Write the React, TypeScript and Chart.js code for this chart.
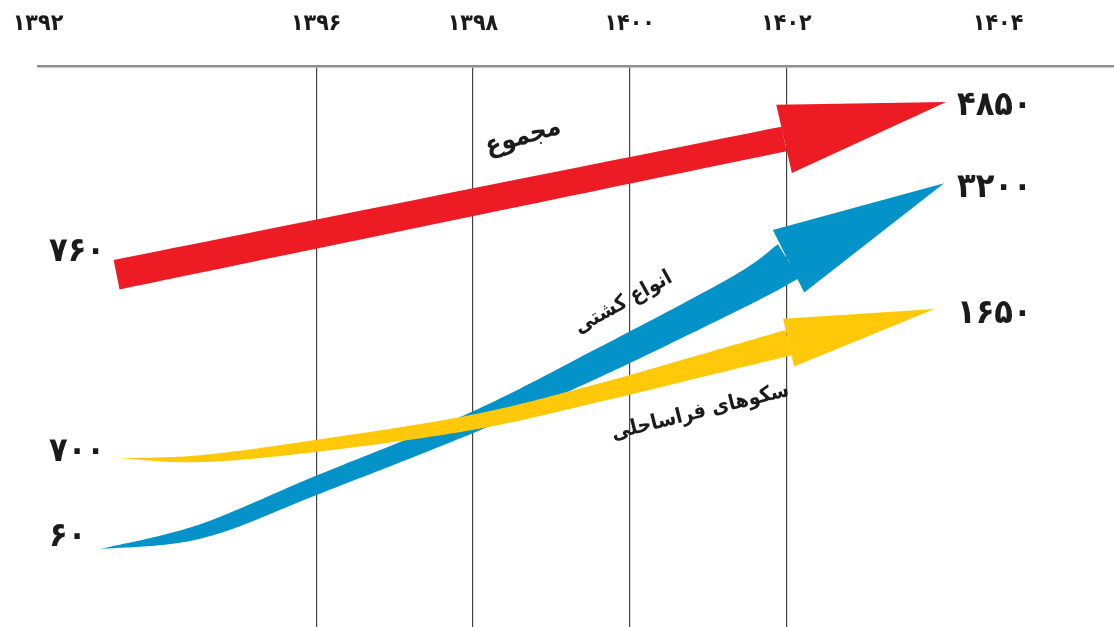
import React, { useEffect, useRef } from 'react';
import { Chart, registerables, LinearScale } from 'chart.js';

// ---------- data ----------
const tickYears = [1392, 1396, 1398, 1400, 1402, 1404];
const gridYears = [1396, 1398, 1400, 1402];
const seriesNames = ['مجموع', 'انواع کشتی', 'سکوهای فراساحلی'];
const startValues = [760, 60, 700];
const endValues = [4850, 3200, 1650];

// arrow centre lines: x in years, y on a hidden schematic 0–100 level axis (last point = arrow tip)
const totalX = [1393.13, 1401.97, 1403.51];
const totalY = [62.8, 87.0, 93.6];
const vesselsX = [1392.89, 1394.33, 1396.01, 1398.0, 1399.62, 1401.41, 1402.02, 1403.49];
const vesselsY = [13.9, 17.0, 25.3, 36.5, 47.2, 59.9, 65.2, 79.1];
const platformsX = [1393.18, 1394.33, 1396.01, 1398.0, 1399.62, 1400.9, 1402.02, 1403.4];
const platformsY = [30.1, 30.0, 32.3, 36.5, 41.8, 46.5, 50.7, 56.7];

// non-uniform time axis: the outer year columns are drawn wider apart than the inner ones
const anchorYears = [1392, 1396, 1402, 1404];
const anchorDisplay = [1392.45, 1396, 1402, 1404.7];

// ---------- styles ----------
const arrowColors = ['#ED1C24', '#0493C9', '#FFC90A'];
const shaftWidths = [
  [30, 25],
  [0, 14, 18, 20, 27, 33, 40],
  [0, 7, 12, 15, 18, 22, 26],
];
const headHalfWidths = [35, 35, 24.5];
const textColor = '#1c1a1b';
const fontFamily = "'DejaVu Sans Condensed', 'DejaVu Sans', sans-serif";
const nameLabels = [
  { x: 1398.64, y: 87.3, rot: -16, size: 26 },
  { x: 1399.92, y: 57.8, rot: -29, size: 21 },
  { x: 1400.9, y: 38.3, rot: -14, size: 21 },
];
const startLabelDy = [-23, -12, -6];
const endLabelDy = [4, 5, 5];
const valueFontSize = 34;

const toFa = (v: number | string) =>
  String(v).replace(/\d/g, (d) => '۰۱۲۳۴۵۶۷۸۹'[Number(d)]);

class TimelineScale extends LinearScale {
  static id = 'timeline';
  static defaults = {};
  warp(v: number) {
    const ys = anchorYears;
    const ds = anchorDisplay;
    let i = 0;
    while (i < ys.length - 2 && v > ys[i + 1]) i++;
    return ds[i] + ((v - ys[i]) * (ds[i + 1] - ds[i])) / (ys[i + 1] - ys[i]);
  }
  getPixelForValue(value: number, index?: number) {
    return super.getPixelForValue(this.warp(value), index as any);
  }
}

Chart.register(...registerables, TimelineScale as any);

type P = { x: number; y: number; w: number };

const cr = (a: number, b: number, c: number, d: number, t: number) => {
  const t2 = t * t;
  const t3 = t2 * t;
  return 0.5 * (2 * b + (-a + c) * t + (2 * a - 5 * b + 4 * c - d) * t2 + (-a + 3 * b - 3 * c + d) * t3);
};

function sampleShaft(pts: { x: number; y: number }[], widths: number[]): P[] {
  const out: P[] = [];
  const n = pts.length;
  if (n === 1) return [{ ...pts[0], w: widths[0] }];
  for (let i = 0; i < n - 1; i++) {
    const i0 = Math.max(0, i - 1);
    const i3 = Math.min(n - 1, i + 2);
    const steps = 30;
    for (let s = 0; s <= steps; s++) {
      if (i > 0 && s === 0) continue;
      const t = s / steps;
      const x = cr(pts[i0].x, pts[i].x, pts[i + 1].x, pts[i3].x, t);
      const y = cr(pts[i0].y, pts[i].y, pts[i + 1].y, pts[i3].y, t);
      const w = Math.max(0, cr(widths[i0], widths[i], widths[i + 1], widths[i3], t));
      out.push({ x, y, w });
    }
  }
  return out;
}

const arrowPlugin = {
  id: 'schematicArrows',
  afterDatasetsDraw(chart: any) {
    const ctx: CanvasRenderingContext2D = chart.ctx;
    const xs = chart.scales.x;
    const ys = chart.scales.y;
    chart.data.datasets.forEach((_ds: any, i: number) => {
      const meta = chart.getDatasetMeta(i);
      const pts = meta.data.map((p: any) => ({ x: p.x, y: p.y }));
      if (pts.length < 2) return;
      const tip = pts[pts.length - 1];
      const base = pts[pts.length - 2];
      const shaft = sampleShaft(pts.slice(0, pts.length - 1), shaftWidths[i]);
      const up: { x: number; y: number }[] = [];
      const lo: { x: number; y: number }[] = [];
      for (let k = 0; k < shaft.length; k++) {
        const a = shaft[Math.max(0, k - 1)];
        const b = shaft[Math.min(shaft.length - 1, k + 1)];
        let tx = b.x - a.x;
        let ty = b.y - a.y;
        const len = Math.hypot(tx, ty) || 1;
        tx /= len;
        ty /= len;
        const h = shaft[k].w / 2;
        up.push({ x: shaft[k].x - ty * h, y: shaft[k].y + tx * h });
        lo.push({ x: shaft[k].x + ty * h, y: shaft[k].y - tx * h });
      }
      ctx.save();
      ctx.fillStyle = arrowColors[i];
      ctx.beginPath();
      up.forEach((p, k) => (k === 0 ? ctx.moveTo(p.x, p.y) : ctx.lineTo(p.x, p.y)));
      for (let k = lo.length - 1; k >= 0; k--) ctx.lineTo(lo[k].x, lo[k].y);
      ctx.closePath();
      ctx.fill();
      // head
      let dx = tip.x - base.x;
      let dy = tip.y - base.y;
      const dl = Math.hypot(dx, dy) || 1;
      dx /= dl;
      dy /= dl;
      const hw = headHalfWidths[i];
      ctx.beginPath();
      ctx.moveTo(base.x - dy * hw, base.y + dx * hw);
      ctx.lineTo(tip.x, tip.y);
      ctx.lineTo(base.x + dy * hw, base.y - dx * hw);
      ctx.closePath();
      ctx.fill();
      ctx.restore();
    });

    // texts
    ctx.save();
    ctx.fillStyle = textColor;
    chart.data.datasets.forEach((_ds: any, i: number) => {
      const meta = chart.getDatasetMeta(i);
      const first = meta.data[0];
      const last = meta.data[meta.data.length - 1];
      ctx.font = `bold ${valueFontSize}px ${fontFamily}`;
      ctx.textBaseline = 'middle';
      ctx.textAlign = 'left';
      ctx.direction = 'ltr';
      ctx.fillText(toFa(startValues[i]), xs.getPixelForValue(tickYears[0]) + 11, first.y + startLabelDy[i]);
      ctx.fillText(toFa(endValues[i]), xs.getPixelForValue(tickYears[tickYears.length - 1]) - 41, last.y + endLabelDy[i]);

      const nl = nameLabels[i];
      ctx.save();
      ctx.translate(xs.getPixelForValue(nl.x), ys.getPixelForValue(nl.y));
      ctx.rotate((nl.rot * Math.PI) / 180);
      ctx.font = `bold ${nl.size}px ${fontFamily}`;
      ctx.textAlign = 'center';
      ctx.direction = 'rtl';
      ctx.fillText(seriesNames[i], 0, 0);
      ctx.restore();
    });
    ctx.restore();
  },
};

const toPoints = (xs: number[], ys: number[]) => xs.map((x, i) => ({ x, y: ys[i] }));

export default function App() {
  const ref = useRef<HTMLCanvasElement>(null);
  useEffect(() => {
    if (!ref.current) return;
    const chart = new Chart(ref.current, {
      type: 'line',
      data: {
        datasets: [
          { label: seriesNames[0], data: toPoints(totalX, totalY) },
          { label: seriesNames[1], data: toPoints(vesselsX, vesselsY) },
          { label: seriesNames[2], data: toPoints(platformsX, platformsY) },
        ].map((d, i) => ({ ...d, showLine: false, pointRadius: 0, borderColor: arrowColors[i], backgroundColor: arrowColors[i] })),
      },
      options: {
        animation: false,
        responsive: true,
        maintainAspectRatio: false,
        events: [],
        layout: { padding: { left: 38, top: 0, right: 0, bottom: 0 } },
        plugins: { legend: { display: false }, tooltip: { enabled: false } },
        scales: {
          x: {
            type: 'timeline' as any,
            position: 'top',
            min: anchorDisplay[0],
            max: 1406.18,
            afterBuildTicks: (s: any) => {
              s.ticks = tickYears.map((v) => ({ value: v }));
            },
            afterFit: (s: any) => {
              s.height = 66;
            },
            ticks: {
              autoSkip: false,
              maxRotation: 0,
              padding: 0,
              color: textColor,
              font: { family: fontFamily, size: 23, weight: 'bold', lineHeight: '84px' },
              callback: (v: any) => toFa(v),
            },
            grid: {
              drawTicks: false,
              lineWidth: 1.2,
              color: (c: any) => (c.tick && gridYears.includes(c.tick.value) ? '#444444' : 'rgba(0,0,0,0)'),
            },
            border: { display: true, color: '#8f8f8f', width: 2.5 },
          },
          y: { type: 'linear', display: false, min: 0, max: 100 },
        },
      } as any,
      plugins: [arrowPlugin],
    });
    return () => chart.destroy();
  }, []);
  return (
    <div style={{ position: 'absolute', left: 0, top: 0, width: 1114, height: 627, background: '#fff' }}>
      <canvas ref={ref} />
    </div>
  );
}
